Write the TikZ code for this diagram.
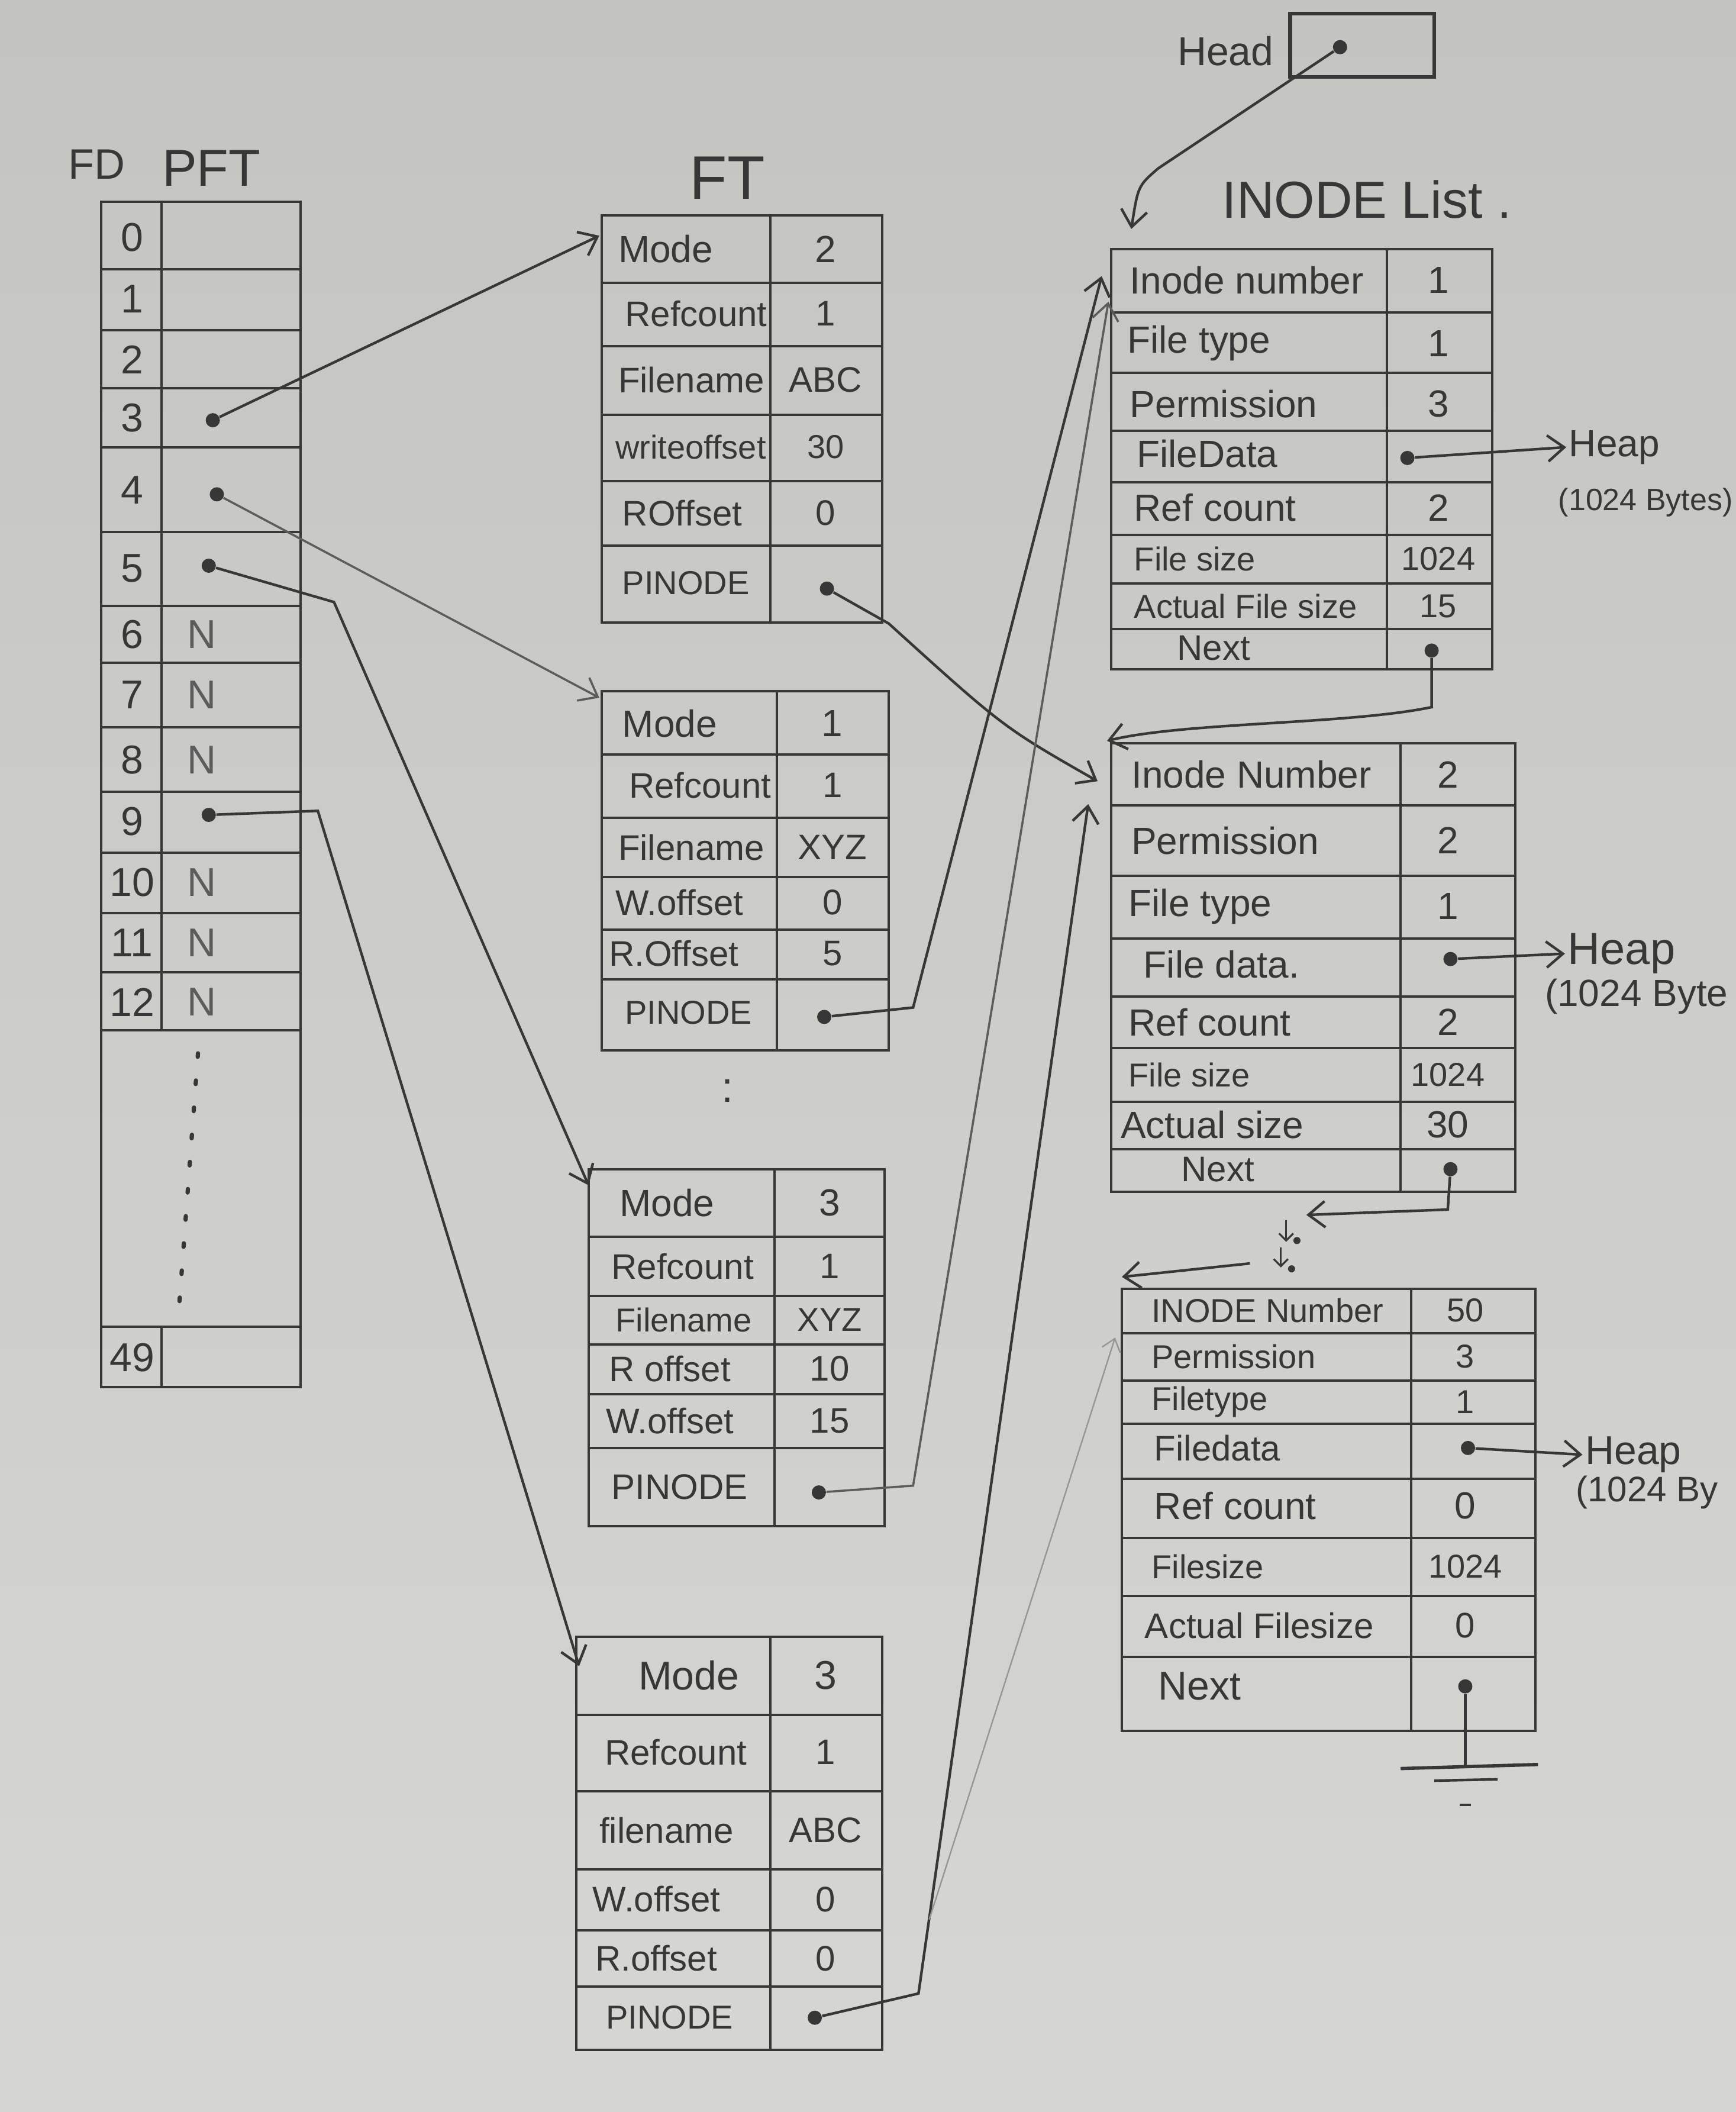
\documentclass[tikz,border=0pt]{standalone}
\usepackage{fontspec}
\setmainfont{Liberation Sans}
\usetikzlibrary{arrows.meta}
\definecolor{papertop}{RGB}{196,196,193}
\definecolor{paperbot}{RGB}{214,214,211}
\definecolor{pencil}{RGB}{55,55,55}
\definecolor{softpencil}{RGB}{92,92,92}
\definecolor{faintpencil}{RGB}{150,150,147}
\newcommand{\tblrow}[7]{%
  \node[lbl,anchor=west,font=\fontsize{#7}{#7}\selectfont] (#1l) at (#2,#4) {#5};
  \node[lbl,font=\fontsize{#7}{#7}\selectfont] (#1v) at (#3,#4) {#6};}
\newcommand{\tablabel}[5]{%
  \node[lbl,anchor=west,font=\fontsize{#5}{#5}\selectfont] (#1) at (#2,#3) {#4};}
\newcommand{\tabgrid}[6]{%
  \draw[tline] (#1,#4) rectangle (#3,#5);
  \draw[tline] (#2,#4) -- (#2,#5);
  \foreach \yy in {#6} {\draw[tline] (#1,\yy) -- (#3,\yy);}}
\begin{document}
\begin{tikzpicture}[x=0.02cm,y=-0.02cm,
  tline/.style={draw=pencil,line width=1pt},
  lbl/.style={text=pencil,inner sep=1pt},
  ttl/.style={text=pencil,inner sep=1pt,font=\fontsize{22}{24}\selectfont},
  dot/.style={circle,fill=pencil,inner sep=0pt,minimum size=6pt},
  link/.style={draw=pencil,line width=1.1pt},
  barb/.style={-{Straight Barb[length=7pt,width=11pt]}},
]
\shade[top color=papertop,bottom color=paperbot] (0,0) rectangle (1289,1568);
\useasboundingbox (0,0) rectangle (1289,1568);

% ---------- titles ----------
\node[ttl,font=\fontsize{18}{20}\selectfont] (fdt) at (72,122) {FD};
\node[ttl] (pftt) at (157,125) {PFT};
\node[ttl,font=\fontsize{26}{28}\selectfont] (ftt) at (540,132) {FT};
\node[ttl] (inlt) at (1015,148) {INODE List .};
\node[lbl,font=\fontsize{17}{19}\selectfont] (headt) at (910,38) {Head};
\node[draw=pencil,line width=1.6pt,minimum width=2.14cm,minimum height=0.94cm,inner sep=0pt] (headbox) at (1011.5,33.5) {};
\node[dot] (headdot) at (995,35) {};

% ---------- PFT ----------
\draw[tline] (75,150) rectangle (223,1030);
\draw[tline] (120,150) -- (120,765);
\draw[tline] (120,985) -- (120,1030);
\foreach \yy in {200,245,288,332,395,450,492,540,588,633,678,722,765,985}
  {\draw[tline] (75,\yy) -- (223,\yy);}
\foreach \n/\yy in {0/176,1/222,2/267,3/310,4/364,5/422,6/471,7/516,8/564,9/610,10/655,11/700,12/744,49/1008}
  {\node[lbl,font=\fontsize{17}{17}\selectfont] (fd\n) at (98,\yy) {\n};}
\foreach \n/\yy in {6/471,7/516,8/564,10/655,11/700,12/744}
  {\node[lbl,text=softpencil,font=\fontsize{17}{17}\selectfont] (nn\n) at (150,\yy) {N};}
\node[dot] (p3) at (158,312) {};
\node[dot] (p4) at (161,367) {};
\node[dot] (p5) at (155,420) {};
\node[dot] (p9) at (155,605) {};
\draw[pencil,line width=1.8pt,dash pattern=on 1.5pt off 10pt,line cap=round] (147,782) -- (133,970);

% ---------- FT 1 ----------
\tabgrid{447}{572}{655}{160}{462}{210,257,308,357,405}
\tblrow{fta}{457}{613}{185}{Mode}{2}{16}
\tblrow{ftb}{462}{613}{233}{Refcount}{1}{15}
\tblrow{ftc}{457}{613}{282}{Filename}{ABC}{15}
\tblrow{ftd}{455}{613}{332}{writeoffset}{30}{14}
\tblrow{fte}{460}{613}{381}{ROffset}{0}{15}
\tablabel{ftf}{460}{433}{PINODE}{14}
\node[dot] (f1p) at (614,437) {};

% ---------- FT 2 ----------
\tabgrid{447}{577}{660}{513}{780}{560,607,651,690,727}
\tblrow{fga}{460}{618}{537}{Mode}{1}{16}
\tblrow{fgb}{465}{618}{583}{Refcount}{1}{15}
\tblrow{fgc}{457}{618}{629}{Filename}{XYZ}{15}
\tblrow{fgd}{455}{618}{670}{W.offset}{0}{15}
\tblrow{fge}{450}{618}{708}{R.Offset}{5}{15}
\tablabel{fgf}{462}{752}{PINODE}{14}
\node[dot] (f2p) at (612,755) {};
\node[lbl,font=\fontsize{18}{18}\selectfont] (ftgap) at (540,810) {:};

% ---------- FT 3 ----------
\tabgrid{437}{575}{657}{868}{1133}{918,962,998,1035,1075}
\tblrow{fha}{458}{616}{893}{Mode}{3}{16}
\tblrow{fhb}{452}{616}{940}{Refcount}{1}{15}
\tblrow{fhc}{455}{616}{980}{Filename}{XYZ}{14}
\tblrow{fhd}{450}{616}{1016}{R offset}{10}{15}
\tblrow{fhe}{448}{616}{1055}{W.offset}{15}{15}
\tablabel{fhf}{452}{1104}{PINODE}{15}
\node[dot] (f3p) at (608,1108) {};

% ---------- FT 4 ----------
\tabgrid{428}{572}{655}{1215}{1522}{1273,1330,1388,1433,1475}
\tblrow{fka}{472}{613}{1244}{Mode}{3}{17}
\tblrow{fkb}{447}{613}{1301}{Refcount}{1}{15}
\tblrow{fkc}{443}{613}{1359}{filename}{ABC}{15}
\tblrow{fkd}{438}{613}{1410}{W.offset}{0}{15}
\tblrow{fke}{440}{613}{1454}{R.offset}{0}{15}
\tablabel{fkf}{448}{1498}{PINODE}{14}
\node[dot] (f4p) at (605,1498) {};

% ---------- INODE 1 ----------
\tabgrid{825}{1030}{1108}{185}{497}{232,277,320,358,397,433,467}
\tblrow{ia}{837}{1068}{208}{Inode number}{1}{16}
\tblrow{ib}{835}{1068}{255}{File type}{1}{16}
\tblrow{ic}{837}{1068}{300}{Permission}{3}{16}
\tablabel{idl}{842}{337}{FileData}{16}
\node[dot] (fd1) at (1045,340) {};
\tblrow{ie}{840}{1068}{377}{Ref count}{2}{16}
\tblrow{if}{840}{1068}{415}{File size}{1024}{14}
\tblrow{ig}{840}{1068}{450}{Actual File size}{15}{14}
\tablabel{ihl}{872}{481}{Next}{15}
\node[dot] (n1) at (1063,483) {};

% ---------- INODE 2 ----------
\tabgrid{825}{1040}{1125}{552}{885}{598,650,697,740,778,818,853}
\tblrow{ja}{838}{1075}{575}{Inode Number}{2}{16}
\tblrow{jb}{838}{1075}{624}{Permission}{2}{16}
\tblrow{jc}{836}{1075}{673}{File type}{1}{16}
\tablabel{jdl}{847}{716}{File data.}{16}
\node[dot] (fd2) at (1077,712) {};
\tblrow{je}{836}{1075}{759}{Ref count}{2}{16}
\tblrow{jf}{836}{1075}{798}{File size}{1024}{14}
\tblrow{jg}{830}{1075}{835}{Actual size}{30}{16}
\tablabel{jhl}{875}{868}{Next}{15}
\node[dot] (n2) at (1077,868) {};

% ---------- INODE 3 ----------
\tabgrid{833}{1048}{1140}{957}{1285}{990,1025,1057,1098,1142,1185,1230}
\tblrow{ka}{853}{1088}{973}{INODE Number}{50}{14}
\tblrow{kb}{853}{1088}{1007}{Permission}{3}{14}
\tblrow{kc}{853}{1088}{1041}{Filetype}{1}{14}
\tablabel{kdl}{855}{1075}{Filedata}{15}
\node[dot] (fd3) at (1090,1075) {};
\tblrow{ke}{855}{1088}{1118}{Ref count}{0}{16}
\tblrow{kf}{853}{1088}{1163}{Filesize}{1024}{14}
\tblrow{kg}{848}{1088}{1207}{Actual Filesize}{0}{15}
\tablabel{khl}{858}{1252}{Next}{17}
\node[dot] (n3) at (1088,1252) {};

% ---------- heap labels ----------
\node[lbl,anchor=west,font=\fontsize{16}{16}\selectfont] (heap1) at (1163,332) {Heap};
\node[lbl,anchor=west,font=\fontsize{13}{13}\selectfont] (heap1b) at (1155,373) {(1024 Bytes)};
\node[lbl,anchor=west,font=\fontsize{19}{19}\selectfont] (heap2) at (1162,708) {Heap};
\node[lbl,anchor=west,font=\fontsize{16}{16}\selectfont] (heap2b) at (1145,740) {(1024 Byte};
\node[lbl,anchor=west,font=\fontsize{17}{17}\selectfont] (heap3) at (1175,1080) {Heap};
\node[lbl,anchor=west,font=\fontsize{15}{15}\selectfont] (heap3b) at (1168,1108) {(1024 By};
\draw[link,barb] (fd1) -- (heap1.west);
\draw[link,barb] (fd2) -- (heap2.west);
\draw[link,barb] (fd3) -- (heap3.west);

% ---------- head pointer ----------
\coordinate (hk) at (860,125);
\coordinate (ino1in) at (840,170);
\draw[link,barb] (headdot) -- (hk) .. controls (845,138) .. (ino1in);

% ---------- PFT -> FT ----------
\coordinate (ft1in) at (445,175);
\coordinate (ft2in) at (445,518);
\coordinate (k5) at (248,447);
\coordinate (ft3in) at (437,880);
\coordinate (k9) at (236,602);
\coordinate (ft4in) at (430,1237);
\draw[link,barb] (p3) -- (ft1in);
\draw[link,draw=softpencil,line width=0.9pt,barb] (p4) -- (ft2in);
\draw[link,barb] (p5) -- (k5) -- (ft3in);
\draw[link,barb] (p9) -- (k9) -- (ft4in);

% ---------- FT -> INODE ----------
\coordinate (k1) at (660,463);
\coordinate (ino2a) at (815,580);
\draw[link,barb] (f1p) -- (k1) .. controls (745,540) .. (ino2a);
\coordinate (k2) at (678,748);
\coordinate (ino1a) at (818,205);
\draw[link,barb] (f2p) -- (k2) -- (ino1a);
\coordinate (k3) at (678,1103);
\coordinate (ino1b) at (823,224);
\draw[link,draw=softpencil,line width=0.9pt,barb] (f3p) -- (k3) -- (ino1b);
\coordinate (k4) at (682,1480);
\coordinate (ino2b) at (808,597);
\draw[link,barb] (f4p) -- (k4) -- (ino2b);
\coordinate (fork) at (690,1425);
\coordinate (ino3a) at (828,993);
\draw[draw=faintpencil,line width=0.6pt,-{Straight Barb[length=5pt,width=8pt]}] (fork) -- (ino3a);

% ---------- next pointers ----------
\coordinate (nk1) at (1063,525);
\coordinate (ino2top) at (822,550);
\draw[link,barb] (n1) -- (nk1) .. controls (1000,538) and (880,536) .. (ino2top);
\coordinate (nk2) at (1075,898);
\coordinate (mid2) at (970,902);
\draw[link,barb] (n2) -- (nk2) -- (mid2);
\draw[link,line width=0.8pt,-{Straight Barb[length=3pt,width=6pt]}] (955,906) -- (955,922);
\fill[pencil] (963,921) circle (1.5pt);
\draw[link,line width=0.8pt,-{Straight Barb[length=3pt,width=6pt]}] (951,926) -- (951,941);
\fill[pencil] (959,942) circle (1.5pt);
\coordinate (mid3) at (928,938);
\coordinate (ino3top) at (833,948);
\draw[link,barb] (mid3) -- (ino3top);
\coordinate (gnd) at (1088,1312);
\draw[link,line width=1.4pt] (n3) -- (gnd);
\draw[link,line width=1.4pt] (1040,1313) -- (1142,1310);
\draw[link] (1065,1322) -- (1112,1321);
\draw[link,line width=0.8pt] (1084,1340) -- (1092,1340);
\end{tikzpicture}
\end{document}
